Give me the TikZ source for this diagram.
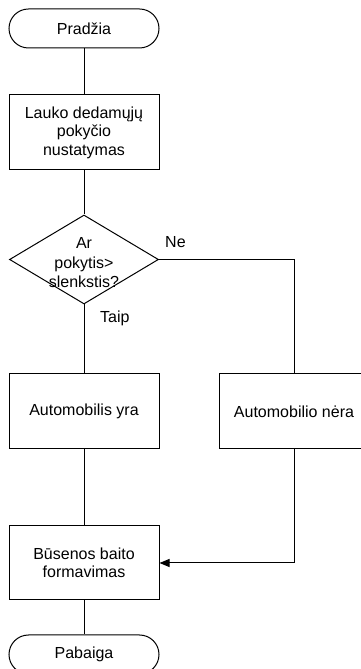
\documentclass[tikz,border=0pt]{standalone}
\usepackage{fontspec}
\setmainfont{Liberation Sans}
\usepackage{tikz}
\usetikzlibrary{arrows.meta, shapes.geometric, positioning}
\tikzset{>={Triangle[length=10pt,width=8pt]}}
\tikzset{
	blokas/.style={draw, line width=1pt, minimum width=150pt, minimum height=75pt, inner sep=0pt, align=center},
	galas/.style={draw, line width=1pt, rounded corners=19.5pt, minimum width=150pt, minimum height=39pt, inner sep=0pt},
	salyga/.style={draw, line width=1pt, diamond, minimum width=149pt, minimum height=89pt, inner sep=0pt},
	rysys/.style={line width=1pt}
}

\begin{document}
\begin{tikzpicture}[x=1pt, y=1pt, font=\fontsize{16}{18.5}\selectfont]
		\useasboundingbox (0,0) rectangle (360,669);
		
		\node (pradzia) at (84,640.5) [galas] {Pradžia};
		\node (nustatymas) at (84,536.5) [blokas] {Lauko dedamųjų\\pokyčio\\nustatymas};
		\node (salyga) at (84,409.5) [salyga] {};
		\node (salygatxt) at (84,406) [align=center, font=\fontsize{16}{19.5}\selectfont] {Ar\\pokytis>\\slenkstis?};
		\node (yra) at (84,257.5) [blokas] {Automobilis yra};
		\node (nera) at (294,257.5) [blokas] {Automobilio nėra};
		\node (busena) at (84,106) [blokas, minimum height=74pt] {Būsenos baito\\formavimas};
		\node (pabaiga) at (84,14.5) [galas] {Pabaiga};
		
		\draw [rysys] (pradzia)--(nustatymas);
		\draw [rysys] (nustatymas)--(salyga);
		\draw [rysys] (salyga)--(yra);
		\draw [rysys] (yra)--(busena);
		\draw [rysys] (busena)--(pabaiga);
		\draw [rysys] (salyga.east) -| (nera.north);
		\draw [rysys, ->] (nera.south) |- (busena.east);
		
		\node (taip) at (100,351) [right, inner sep=0pt] {Taip};
		\node (ne) at (165,427) [right, inner sep=0pt] {Ne};
		
		\end{tikzpicture}
\end{document}
